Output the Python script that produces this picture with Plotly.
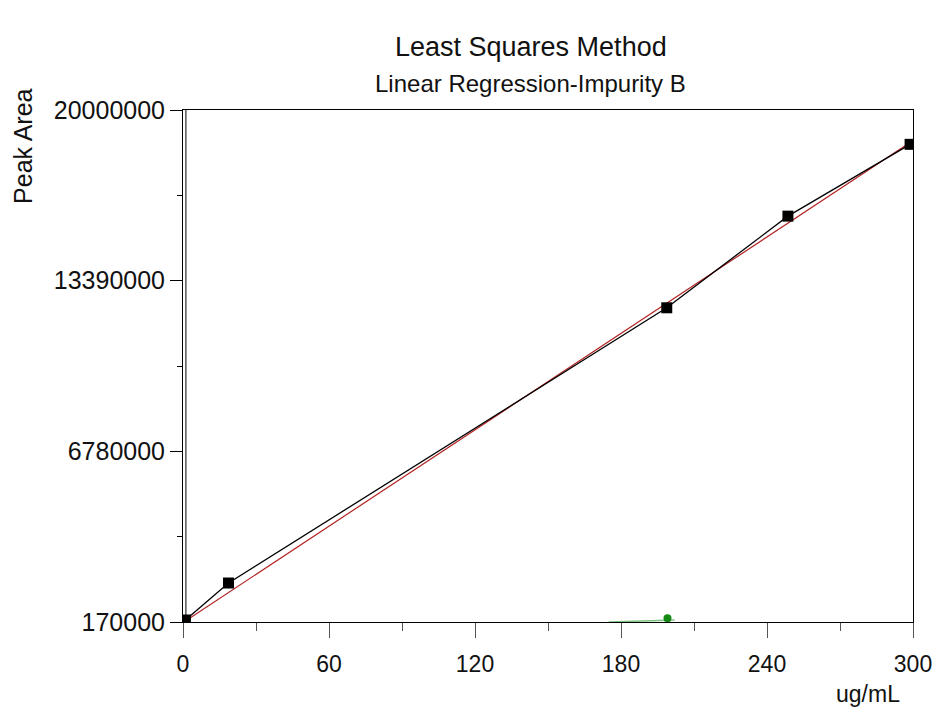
import plotly.graph_objects as go

# ---- data ----
conc = [1.0, 18.7, 198.8, 248.6, 298.8]
area = [247000, 1680000, 12340000, 15890000, 18670000]

fit_conc = [1.0, 298.8]
fit_area = [210000, 18740000]

green_line_conc = [175.0, 202.0]
green_line_area = [170000, 250000]
green_pt_conc = [199.1]
green_pt_area = [313000]

x_tick_vals = [0, 60, 120, 180, 240, 300]
x_tick_text = ["0", "60", "120", "180", "240", "300"]
y_tick_vals = [170000, 6780000, 13390000, 20000000]
y_tick_text = ["170000", "6780000", "13390000", "20000000"]
y_minor_vals = [3475000, 10085000, 16695000]

FONT = "Liberation Sans, Arial, sans-serif"

# the page body has an 8px margin, so the figure is drawn 8px in from the corner
OFF = 8
W, H = 944 - OFF, 713 - OFF
# plot area in page pixels
L, R, T, B = 183, 917, 110, 622

def px(xp):
    return (xp - L) / (R - L)

def py(yp):
    return (B - yp) / (B - T)

fig = go.Figure()

fig.add_trace(go.Scatter(
    x=green_line_conc, y=green_line_area, mode="lines",
    line=dict(color="rgba(20,140,20,0.55)", width=1.5), hoverinfo="skip", showlegend=False))
fig.add_trace(go.Scatter(
    x=fit_conc, y=fit_area, mode="lines",
    line=dict(color="#b22222", width=1.2), showlegend=False))
fig.add_trace(go.Scatter(
    x=conc, y=area, mode="lines+markers",
    line=dict(color="black", width=1.3),
    marker=dict(symbol="square", size=11, color="black"), showlegend=False))
fig.add_trace(go.Scatter(
    x=green_pt_conc, y=green_pt_area, mode="markers",
    marker=dict(symbol="circle", size=8, color="#138a13"), showlegend=False))

# second (double) line of the left axis
fig.add_shape(type="line", xref="x", yref="paper", x0=1.2, x1=1.2, y0=0, y1=1,
              line=dict(color="black", width=1))

fig.update_xaxes(
    range=[0, 300], showgrid=False, zeroline=False,
    showline=True, linecolor="black", linewidth=1, mirror=True,
    ticks="outside", ticklen=15, tickcolor="#555", tickwidth=1,
    tickvals=x_tick_vals, ticktext=x_tick_text,
    ticklabelstandoff=6,
    tickfont=dict(family=FONT, size=23, color="#111"),
    minor=dict(ticks="outside", ticklen=8, dtick=30, tick0=0, tickcolor="#555"),
)
fig.update_yaxes(
    range=[170000, 20000000], showgrid=False, zeroline=False,
    showline=True, linecolor="black", linewidth=1, mirror=True,
    ticks="outside", ticklen=12, tickcolor="black", tickwidth=1,
    tickvals=y_tick_vals, ticktext=y_tick_text,
    tickfont=dict(family=FONT, size=25, color="#111"),
    minor=dict(ticks="outside", ticklen=5, tickvals=y_minor_vals, tickcolor="black"),
)

ann = [
    ("Least Squares Method", 533, 47, 27, 0),
    ("Linear Regression-Impurity B", 532, 83, 24, 0),
    ("Peak Area", 22, 146, 25, -90),
    ("ug/mL", 872, 694, 23, 0),
]
for text, xp, yp, size, angle in ann:
    fig.add_annotation(xref="paper", yref="paper", showarrow=False,
                       x=px(xp), y=py(yp), xanchor="center", yanchor="middle",
                       text=text, textangle=angle,
                       font=dict(family=FONT, color="#111", size=size))

fig.update_layout(
    width=W, height=H,
    margin=dict(l=L - OFF, r=W - (R - OFF), t=T - OFF, b=H - (B - OFF)),
    paper_bgcolor="white", plot_bgcolor="white",
    showlegend=False,
)

fig.write_html("out.html")
